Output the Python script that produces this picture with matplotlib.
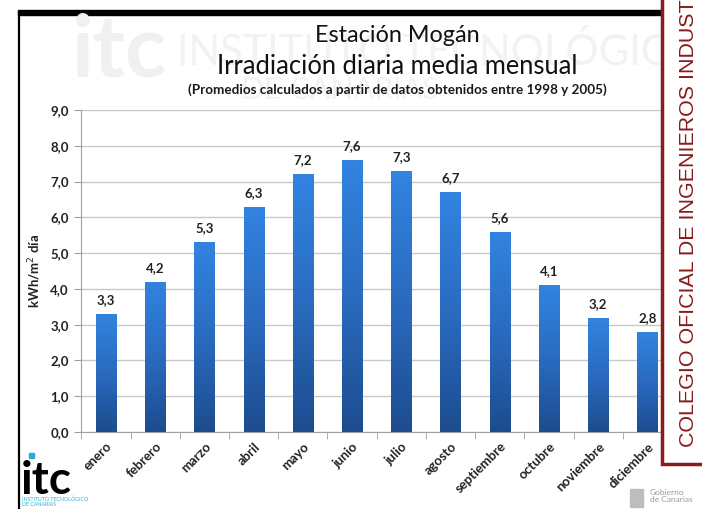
import matplotlib
matplotlib.use('Agg')
import matplotlib.pyplot as plt
import numpy as np
from matplotlib.colors import LinearSegmentedColormap
from matplotlib.lines import Line2D
from matplotlib.patches import Rectangle

#------------------------------------------------
# Data
#------------------------------------------------
meses = ['enero', 'febrero', 'marzo', 'abril', 'mayo', 'junio',
         'julio', 'agosto', 'septiembre', 'octubre', 'noviembre', 'diciembre']
irradiacion = [3.3, 4.2, 5.3, 6.3, 7.2, 7.6, 7.3, 6.7, 5.6, 4.1, 3.2, 2.8]
yticks = [0, 1, 2, 3, 4, 5, 6, 7, 8, 9]

plt.rcParams['font.family'] = ['Lato', 'DejaVu Sans']

W, H = 702, 509
fig = plt.figure(figsize=(W / 100, H / 100), dpi=100)
fig.patch.set_facecolor('white')

def fx(px):
    return px / W

def fy(py):
    return 1 - py / H

#------------------------------------------------
# Watermark in background
#------------------------------------------------
fig.text(fx(120), fy(52), 'itc', fontsize=62, color='#f0f0f0', fontweight='bold',
         ha='center', va='center')
fig.text(fx(440), fy(52), 'INSTITUTO TECNOLÓGICO', fontsize=30, color='#f2f2f2',
         ha='center', va='center')
fig.text(fx(340), fy(90), 'DE CANARIAS', fontsize=22, color='#f2f2f2',
         ha='center', va='center')

#------------------------------------------------
# Axes
#------------------------------------------------
ax = fig.add_axes([fx(81.4), fy(432), fx(672 - 81.4), (432 - 110) / H])
ax.set_facecolor('none')
x = np.arange(len(meses))
bars = ax.bar(x, irradiacion, width=0.41, color='#2a6cc0', zorder=2)

cmap = LinearSegmentedColormap.from_list('azul', ['#1d4c8e', '#2a6bc0', '#3284e0'])
grad = np.linspace(0, 1, 256).reshape(-1, 1)
for b in bars:
    bx, by = b.get_x(), b.get_y()
    im = ax.imshow(grad, cmap=cmap, aspect='auto', origin='lower',
                   extent=[bx, bx + b.get_width(), by, by + b.get_height()], zorder=3)
    im.set_clip_path(b)

for xi, v in zip(x, irradiacion):
    ax.text(xi, v + 0.22, ('%.1f' % v).replace('.', ','), ha='center', va='bottom',
            fontsize=9.5, fontweight='bold', color='#222222')

ax.set_xlim(-0.5, len(meses) - 0.5)
ax.set_ylim(0, 9)
ax.set_yticks(yticks)
ax.set_yticklabels([('%.1f' % t).replace('.', ',') for t in yticks],
                   fontsize=9.5, fontweight='bold', color='#222222')
ax.yaxis.grid(True, color='#c8c8c8', linewidth=1)
ax.set_axisbelow(True)
ax.tick_params(axis='y', length=5, color='#a0a0a0', pad=4)

ax.set_xticks(x)
ax.set_xticklabels(meses, rotation=45, ha='right', rotation_mode='anchor',
                   fontsize=9.5, fontweight='bold', color='#222222')
ax.tick_params(axis='x', which='major', length=0, pad=6)
ax.set_xticks(np.arange(-0.5, len(meses), 1), minor=True)
ax.tick_params(axis='x', which='minor', length=5, color='#a0a0a0')

for s in ['top', 'right']:
    ax.spines[s].set_visible(False)
ax.spines['left'].set_color('#a0a0a0')
ax.spines['bottom'].set_color('#a0a0a0')

ax.set_ylabel('kWh/m$^{2}$ día', fontsize=9.5, fontweight='bold', color='#222222', labelpad=5)

#------------------------------------------------
# Titles
#------------------------------------------------
fig.text(fx(397), fy(35), 'Estación Mogán', fontsize=16.8,
         color='#111111', ha='center', va='center')
fig.text(fx(397), fy(66), 'Irradiación diaria media mensual', fontsize=18.4,
         color='#111111', ha='center', va='center')
fig.text(fx(397), fy(90), '(Promedios calculados a partir de datos obtenidos entre 1998 y 2005)',
         fontsize=9.75, fontweight='bold', color='#1a1a1a', ha='center', va='center')

#------------------------------------------------
# Slide frame and logos
#------------------------------------------------
fig.add_artist(Rectangle((fx(18), fy(15)), fx(690 - 18), 5 / H, color='black',
                         transform=fig.transFigure))
fig.add_artist(Line2D([fx(19), fx(19)], [fy(13), 0], color='black', lw=1.6,
                      transform=fig.transFigure))

fig.text(fx(21), fy(494), 'itc', fontsize=33, fontweight='bold', color='black',
         ha='left', va='baseline')
fig.add_artist(Rectangle((fx(29), fy(458)), 5 / W, 5 / H, color='#29a9d6',
                         transform=fig.transFigure))
fig.text(fx(22), fy(502), 'INSTITUTO TECNOLÓGICO\nDE CANARIAS', fontsize=3.8,
         color='#29a9d6', ha='left', va='center', linespacing=1.0)
fig.text(fx(650), fy(496), 'Gobierno\nde Canarias', fontsize=6, color='#9a9a9a',
         ha='left', va='center', linespacing=0.95)
fig.add_artist(Rectangle((fx(630), fy(507)), 13 / W, 18 / H, color='#bdbdbd',
                         transform=fig.transFigure))

# red frame on the right
rojo = '#8b1a1a'
fig.add_artist(Rectangle((fx(662), fy(464)), fx(702 - 662) + 0.01, 464 / H + 0.01,
                         facecolor='white', edgecolor=rojo, lw=2.5,
                         transform=fig.transFigure, zorder=5))
fig.text(fx(688), fy(447), 'COLEGIO OFICIAL DE INGENIEROS INDUST', fontsize=15.4,
         color=rojo, rotation=90, rotation_mode='anchor', ha='left', va='center',
         family='Liberation Sans', zorder=6)

fig.savefig('out.png', dpi=100)
